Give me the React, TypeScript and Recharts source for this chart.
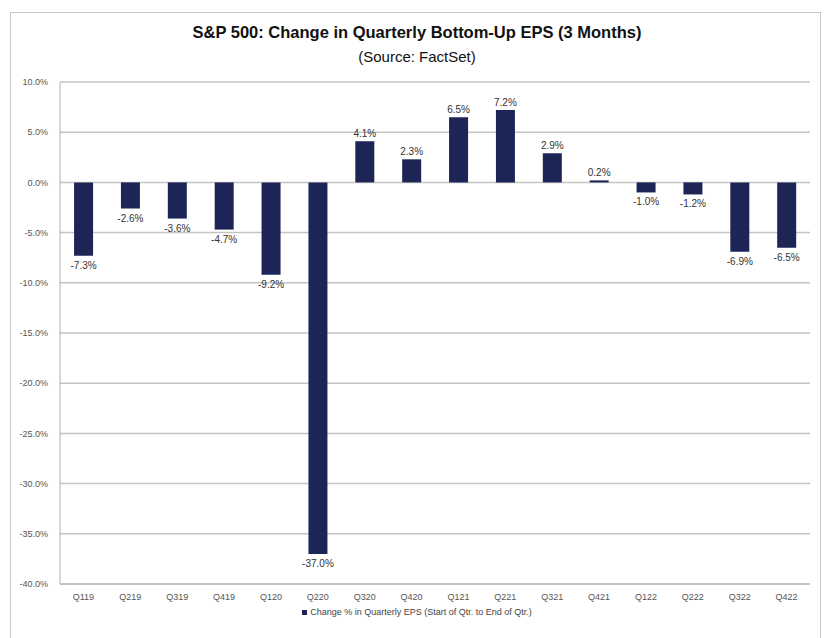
import React from 'react';
import { BarChart, Bar, XAxis, YAxis, CartesianGrid, LabelList, Legend } from 'recharts';

const quarters = ['Q119', 'Q219', 'Q319', 'Q419', 'Q120', 'Q220', 'Q320', 'Q420', 'Q121', 'Q221', 'Q321', 'Q421', 'Q122', 'Q222', 'Q322', 'Q422'];
const epsChange = [-7.3, -2.6, -3.6, -4.7, -9.2, -37.0, 4.1, 2.3, 6.5, 7.2, 2.9, 0.2, -1.0, -1.2, -6.9, -6.5];
const yTicks = [10, 5, 0, -5, -10, -15, -20, -25, -30, -35, -40];

const seriesName = 'Change % in Quarterly EPS (Start of Qtr. to End of Qtr.)';
const barColor = '#1d2456';
const font = '"Liberation Sans", Arial, sans-serif';

const data = quarters.map((q, i) => ({ quarter: q, change: epsChange[i] }));

// label above positive bars, below negative ones
const BarValueLabel = (props: any) => {
  const { x, y, width, value } = props;
  const neg = value < 0;
  return (
    <text
      x={x + width / 2}
      y={neg ? y + 13 : y - 4}
      textAnchor="middle"
      fontSize={10}
      fill="#333"
      fontFamily={font}
    >
      {value.toFixed(1)}%
    </text>
  );
};

const LegendContent = () => (
  <div style={{ textAlign: 'center', fontFamily: font, fontSize: 9, color: '#444', lineHeight: '12px' }}>
    <span style={{ display: 'inline-block', width: 5, height: 5, background: barColor, marginRight: 3, verticalAlign: 'middle' }} />
    {seriesName}
  </div>
);

const App: React.FC = () => {
  return (
    <div style={{ position: 'absolute', left: 0, top: 0, width: 824, height: 638, background: '#fff', overflow: 'hidden' }}>
      <div style={{ position: 'absolute', left: 10, top: 12, width: 809, height: 640, border: '1px solid #c9c9c9' }} />
      <div style={{ position: 'absolute', left: 0, top: 23, width: 834, textAlign: 'center', fontFamily: font, fontWeight: 'bold', fontSize: 16.5, color: '#111' }}>
        S&amp;P 500: Change in Quarterly Bottom-Up EPS (3 Months)
      </div>
      <div style={{ position: 'absolute', left: 0, top: 48, width: 834, textAlign: 'center', fontFamily: font, fontSize: 15, color: '#111' }}>
        (Source: FactSet)
      </div>
      <BarChart
        width={824}
        height={638}
        data={data}
        margin={{ top: 82, right: 14, left: 8, bottom: 30 }}
        barCategoryGap="30%"
      >
        <CartesianGrid vertical={false} stroke="#c4c4c4" strokeWidth={1.5} />
        <XAxis
          dataKey="quarter"
          tick={{ fontSize: 9, fill: '#555', fontFamily: font }}
          tickLine={false}
          axisLine={{ stroke: '#b0b0b0' }}
          interval={0}
          height={24}
          tickMargin={4}
        />
        <YAxis
          domain={[-40, 10]}
          ticks={yTicks}
          interval={0}
          tickFormatter={(v: number) => `${v.toFixed(1)}%`}
          tick={{ fontSize: 9, fill: '#555', fontFamily: font }}
          tickLine={false}
          axisLine={{ stroke: '#b0b0b0' }}
          width={52}
          tickMargin={6}
        />
        <Legend
          layout="horizontal"
          verticalAlign="middle"
          align="center"
          wrapperStyle={{ top: 606, left: 0, width: 834 }}
          content={<LegendContent />}
        />
        <Bar dataKey="change" name={seriesName} fill={barColor} isAnimationActive={false}>
          <LabelList dataKey="change" content={<BarValueLabel />} />
        </Bar>
      </BarChart>
    </div>
  );
};

export default App;
